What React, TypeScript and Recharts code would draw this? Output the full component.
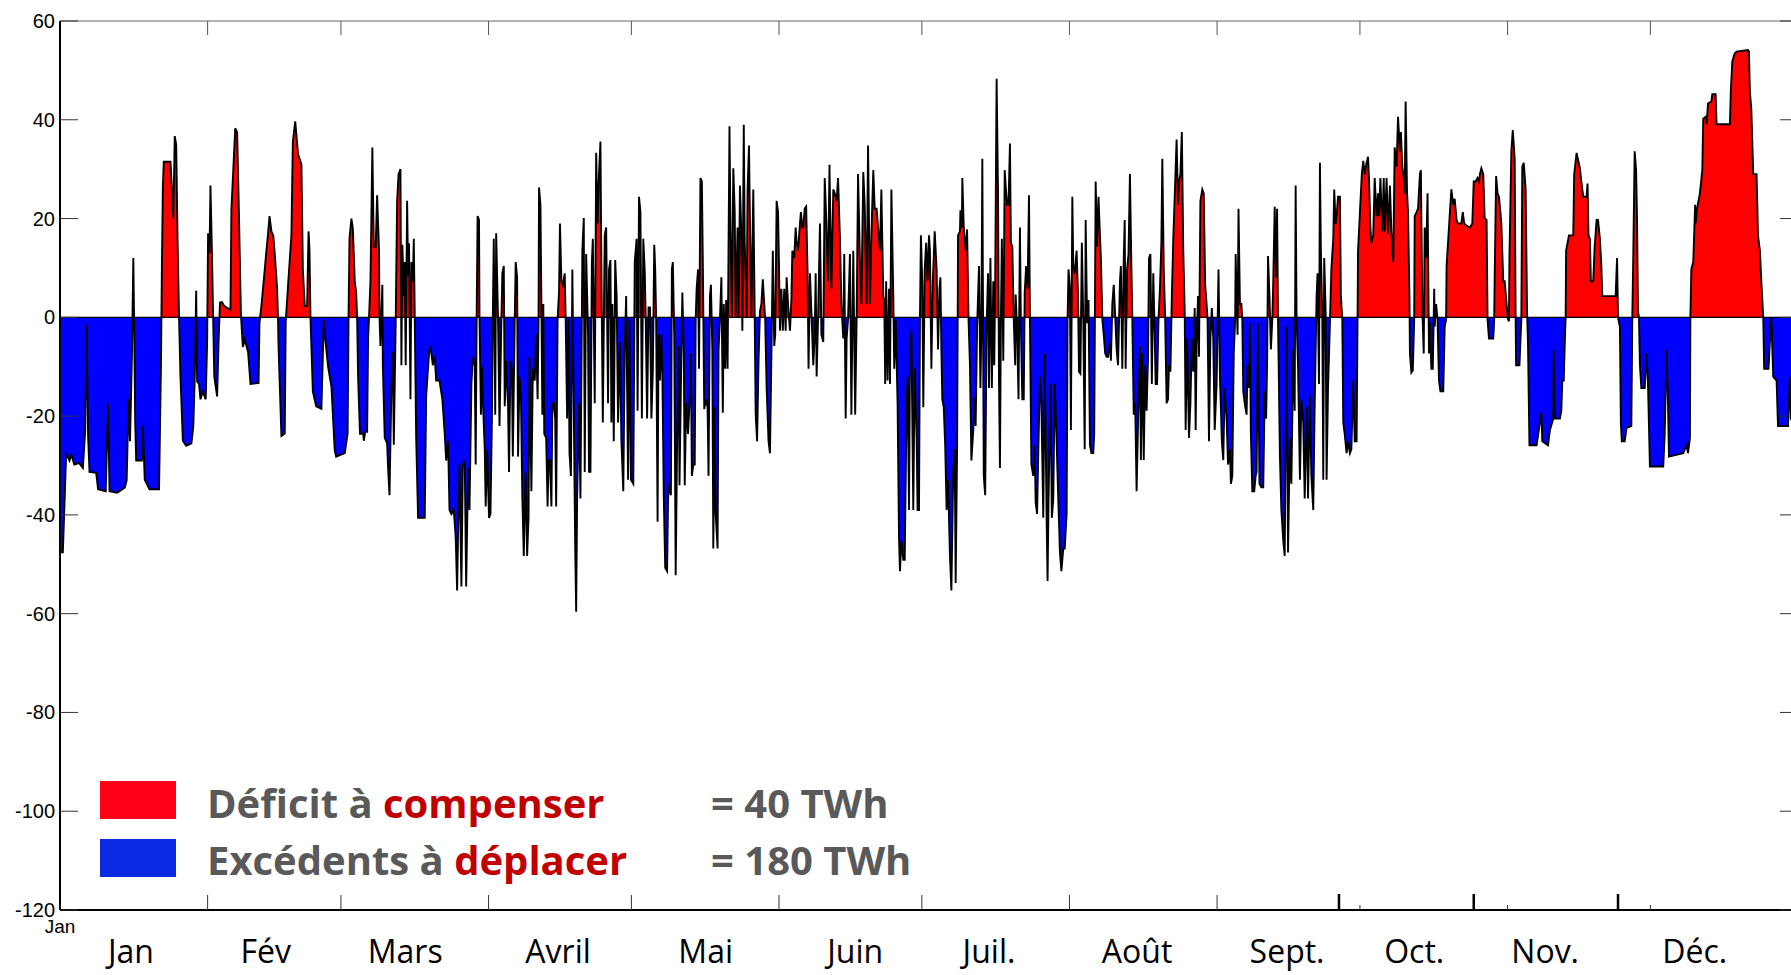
import { AreaChart, Area, XAxis, YAxis, ReferenceLine } from 'recharts'

// [jour de l'année, puissance nette en GW]
const janFev: [number, number][] = [
  [0, -47.6], [0.6, -47.6], [1.3, -27.5], [2.0, -29], [2.4, -27.8], [3.0, -29.8], [4.0, -29.5], [4.8, -30.5], [5.3, -22.8], [5.6, -1.5],
  [5.9, -24], [6.2, -31.3], [7.6, -31.5], [8.0, -34.8], [9.6, -35.2], [10.1, -17.4], [10.4, -35.2], [12, -35.5], [13.6, -34.5], [14.0, -33],
  [14.4, -16.6], [14.7, -25.1], [15.1, -8], [15.4, 12], [15.6, -4], [15.8, -21.3], [16.0, -29], [17.2, -29], [17.4, -22], [17.8, -32.9],
  [18.8, -34.8], [20.8, -34.8], [21.2, -10], [21.4, 10], [21.6, 26.3], [21.8, 31.5], [23.2, 31.5], [23.5, 26], [23.8, 20], [24.1, 36.7],
  [24.4, 35], [24.7, 15.1], [25.0, 0], [25.3, -12], [25.8, -25], [26.5, -26], [27.6, -25.5], [28.0, -22], [28.3, -12], [28.6, 5.4],
  [28.8, -13], [29.2, -13.5], [29.5, -16.6], [30.0, -15], [30.6, -16.6], [30.9, -5], [31.1, 17], [31.4, 13], [31.6, 26.7], [31.9, 13.5],
  [32.2, -2], [32.4, -12], [33.0, -16], [33.3, -5], [33.6, 3], [34.0, 3.1], [34.5, 2.3], [35.0, 2.0], [35.8, 1.5], [36.0, 22],
  [36.4, 30], [36.8, 38.3], [37.2, 37.5], [37.6, 20], [38.0, 0.5], [38.4, -6], [38.8, -4.5], [39.5, -7], [40.0, -13.5], [41.7, -13.3],
  [41.9, -1], [42.3, 2.3], [43.0, 9.7], [43.3, 13], [43.7, 17], [44.0, 20.5], [44.4, 17.4], [44.8, 16.5], [45.1, 12.8], [45.6, 5.8],
  [45.8, -1], [45.9, -6], [46.5, -24], [47.2, -23.5], [47.4, -1], [47.9, 6.6], [48.6, 16.6], [48.9, 35.6], [49.4, 39.7], [50.0, 33],
  [50.7, 31], [51.0, 9.7], [51.4, 2.3], [51.9, 2.3], [52.2, 17.4], [52.4, 13.5], [52.6, 0], [53.1, -15], [53.8, -18], [54.9, -18.5],
  [55.4, -0.5], [55.7, -4.3], [56.3, -10], [57.0, -14], [57.7, -27], [58.0, -28.2], [59.8, -27.5], [60.4, -23.6], [60.6, 0.5], [60.8, 16],
  [61.2, 20], [61.5, 18],
]

const marsAvril: [number, number][] = [
  [61.9, 7.3], [62.2, 5], [62.4, 0], [62.6, -12], [63.0, -23.6], [63.7, -23.6], [63.8, -25], [64.1, -23.2], [64.5, -23.2], [64.7, -4.3],
  [64.9, 0], [65.2, 7.3], [65.6, 34.4], [65.9, 14.3], [66.3, 14.3], [66.6, 24.7], [67.0, 13.5], [67.1, 0], [67.3, -5.8], [67.5, 1],
  [67.7, 6.6], [67.8, -9.7], [68.2, -24.4], [68.7, -25.5], [68.9, -30.5], [69.2, -36], [69.6, -14.3], [69.9, -7], [70.1, -25.8], [70.5, -1],
  [70.8, 23.6], [71.1, 29], [71.5, 30], [71.7, -9.7], [71.9, 14.7], [72.2, 4.3], [72.4, 11.2], [72.6, -9.7], [72.9, 23.6], [73.1, 8.5],
  [73.3, 15], [73.6, -16.6], [73.8, 11.2], [74.1, 7.3], [74.3, 15.9], [74.5, 0], [74.8, -24.4], [75.2, -40.6], [76.6, -40.6], [76.9, -15.9],
  [77.5, -7.3], [77.8, -5.8], [78.3, -9.7], [78.7, -8], [79.0, -12.8], [79.7, -12.8], [80.3, -16.6], [80.8, -23.6], [81.1, -29], [81.5, -25],
  [81.8, -39], [82.2, -39.8], [82.7, -39], [83.1, -44.5], [83.4, -55.3], [83.7, -38], [83.9, -29.8], [84.3, -54.5], [84.6, -29.8], [85.0, -29],
  [85.3, -54.5], [85.7, -30.5], [86.0, -39], [86.4, -13.5], [86.7, -8], [87.1, -9.7], [87.3, -29.8], [87.5, 0], [87.7, 20.5], [88.0, 19.7],
  [88.1, 0], [88.4, -19.7], [88.6, -10], [88.8, -16.6], [89.2, -26.7], [89.4, -38.3], [89.7, -26.7], [90.1, -40.6], [90.4, -39.8], [90.7, -21],
  [90.9, 0.5], [91.1, 15.9], [91.4, -19.7], [91.6, 17], [92.0, -0.4], [92.3, -22], [92.7, -0.4], [92.9, 8.9], [93.2, 10.4], [93.4, -18],
  [93.7, -8.8], [94.1, -18], [94.3, -31.3], [94.6, -8.8], [94.9, -10.4], [95.1, -28.2], [95.5, -0.4], [95.7, 11.2], [96.0, 8.1], [96.2, -28.2],
  [96.5, -12], [96.8, -15.9], [97.1, -36.7], [97.4, -48.3], [97.8, -31.3], [98.1, -48.3], [98.4, -40.6], [98.6, -8], [99.0, -35.2], [99.3, -10.4],
  [99.7, -12.8], [100.0, -3.5], [100.3, -16.6], [100.5, -0.4], [100.6, 26.3], [100.9, 22.8], [101.1, 2.7], [101.3, -19.7], [101.5, 2.7], [101.7, -23.6],
  [102.1, -24.4], [102.4, -38.3], [102.6, -29], [102.9, -29], [103.2, -38.3], [103.4, -17.4], [103.7, -17.4], [104.0, -20.5], [104.2, -38.3], [104.5, -0.4],
  [104.8, 5], [105.0, 19], [105.3, 7.3], [105.6, 6.6], [106.0, 8.9], [106.2, -0.4], [106.5, -20.5], [106.8, -0.4], [107.0, -27.5], [107.3, -32.1],
  [107.6, 9.7], [107.9, -18], [108.2, -46.8], [108.4, -59.6], [108.6, -36.7], [109.0, -17.4], [109.3, -36.7], [109.7, 13.5], [110.0, 20.1], [110.2, -31.3],
  [110.5, 12.8], [110.9, -3.5], [111.1, -31.3], [111.4, -31.3], [111.7, 11.2], [111.9, 15.9], [112.3, -17.4], [112.6, 33.3], [112.9, 19], [113.2, 29],
  [113.5, 35.6], [113.7, 9.7], [114.0, -21.3], [114.4, 16.6], [114.7, 18.2], [115.1, -17.4], [115.3, 9.7], [115.6, 11.6], [115.8, -21.3], [116.0, 2.7],
  [116.3, -25.1], [116.6, 11.6], [116.9, 4.3], [117.2, -21.3], [117.6, -5], [117.9, -25.1], [118.3, -35.2], [118.6, -6.5], [118.9, 4.3], [119.3, -32.9],
  [119.6, -0.4], [119.9, -32.9], [120.4, -33.7], [120.7, 11.2], [121.1, 15.9], [121.3, -18.9], [121.6, 24.4], [121.9, 21.3], [122.2, -20.5], [122.5, 15.9],
]

const maiJuin: [number, number][] = [
  [122.8, 9.3], [123.0, 0], [123.3, -20.5], [123.6, 2], [123.9, 2], [124.2, -20.5], [124.5, -11], [124.8, 14.7], [125.0, 9.7], [125.2, -0.4],
  [125.5, -41.4], [125.7, -3.5], [126.0, -12.8], [126.3, -3.5], [126.5, -11], [126.8, -36], [127.1, -50.7], [127.5, -51.4], [127.7, -36.7], [128.0, -33.7],
  [128.3, -36], [128.5, 9.7], [128.7, 11.2], [129.0, -3.5], [129.3, -52.2], [129.6, -25.1], [129.9, -5.8], [130.1, -34], [130.5, -7.3], [130.7, 5],
  [131.0, -7.3], [131.2, -34], [131.5, -17.4], [131.9, -23.6], [132.2, -17.4], [132.5, -7.3], [132.7, -32.1], [133.0, -29.8], [133.3, -29.8], [133.5, -0.4],
  [133.7, 5.8], [134.0, 9.7], [134.2, -10.4], [134.5, 28.2], [134.8, 27.5], [135.0, 11.2], [135.3, -18.6], [135.6, -16.6], [136.0, -18.2], [136.2, -32.1],
  [136.5, 4.3], [136.7, 6.6], [137.0, -6.5], [137.2, -46.8], [137.5, -18.2], [137.7, -39.8], [138.1, -46.8], [138.3, -6.5], [138.6, -0.4], [138.9, 8.1],
  [139.2, -19.3], [139.4, 2.7], [139.7, -10.4], [139.9, 3.5], [140.2, -10.4], [140.6, 38.7], [140.8, 19], [141.1, 0], [141.4, 30.2], [141.7, 21.3],
  [141.9, 0], [142.3, 18.2], [142.5, 0], [142.8, 26.7], [143.1, 16.6], [143.3, -2.7], [143.6, 39], [143.8, 15.1], [144.2, 0], [144.4, 25.9],
  [144.7, 34.8], [144.9, 19], [145.2, 0], [145.6, 25.9], [145.9, 0], [146.1, -19.7], [146.4, -25.1], [146.7, -8.8], [147.0, 1.2], [147.3, 2.7],
  [147.6, 7.7], [147.9, 2.7], [148.1, -0.4], [148.4, -14.3], [148.8, -25.1], [149.1, -27.5], [149.4, -8], [149.7, 13.5], [150.0, -5.8], [150.2, -3.5],
  [150.5, 23.6], [150.8, 21.3], [151.0, 10.4], [151.2, -2.7], [151.5, 5.8], [151.8, -2.7], [152.1, 5.8], [152.4, -2.7], [152.6, 8.1], [152.9, 2.7],
  [153.3, -2.7], [153.6, 3.5], [153.8, 13.5], [154.2, 12], [154.5, 18.2], [154.7, 15.1], [155.0, 13.5], [155.4, 19], [155.6, 21.3], [155.9, 18.2],
  [156.1, 18.2], [156.4, 22], [156.7, 22.4], [157.0, 8.9], [157.2, -10.4], [157.5, 8.9], [157.8, 1.2], [158.2, -9.7], [158.5, -3.5], [158.7, 8.9],
  [158.9, -12], [159.2, -0.4], [159.6, 19], [159.9, -3.5], [160.3, -5], [160.6, 28.2], [160.9, 20.5], [161.3, 7.3], [161.6, 30.9], [162.0, 5.8],
  [162.4, 25.9], [162.7, 25.1], [163.1, 23.6], [163.4, 28.2], [163.8, 15.9], [164.1, 2.7], [164.5, -4.3], [164.7, 12.8], [165.0, -20.5], [165.2, -4.3],
  [165.5, -0.4], [165.9, 12.8], [166.2, -19.7], [166.6, 13.5], [166.8, -4.3], [167.0, -19.7], [167.3, -0.4], [167.6, 29], [168.0, 11.2], [168.3, 2.7],
  [168.7, 29.4], [169.0, 22.8], [169.4, 2.7], [169.7, 34.8], [170.1, 2.7], [170.4, 16.6], [170.8, 29.8], [171.1, 22], [171.5, 22], [171.8, 18.2],
  [172.2, 13.5], [172.5, 25.9], [172.9, 4.3], [173.1, 3.5], [173.3, -13.5], [173.5, 7.3], [173.8, -12.8], [174.1, 5.8], [174.3, -13.5], [174.6, 25.9],
  [175.0, 4.3], [175.2, -10.4], [175.5, -0.4], [175.9, -17.4], [176.2, -44.5], [176.4, -51.4], [176.7, -45.2], [177.1, -49.1], [177.4, -49.1], [177.8, -17.4],
  [178.0, -12], [178.3, -39], [178.5, -8.8], [178.8, -2.7], [179.2, -39], [179.5, -10.4], [179.9, -24.4], [180.1, -39], [180.4, -39], [180.6, -0.4],
  [180.8, 16.6], [181.1, 6.6], [181.3, -18.2], [181.6, 9.7], [181.9, 15.1], [182.2, 7.3], [182.5, 16.6], [182.7, 13.5], [183.0, -10.4], [183.3, 7.3],
  [183.7, 17.4], [184.1, 9.7], [184.4, -6.5], [184.7, 5.8],
]

const juilAout: [number, number][] = [
  [184.9, 8.1], [185.1, -6.6], [185.3, -16.6], [185.6, -18.2], [185.9, -25.9], [186.2, -39], [186.5, -32.9], [186.9, -48.3], [187.2, -55.3], [187.6, -30.5],
  [187.9, -26.7], [188.1, -53.8], [188.4, -26.7], [188.6, 16.6], [189.0, 17.4], [189.1, 21.7], [189.4, 18.2], [189.5, 28.2], [189.8, 18.2], [190.2, 13.5],
  [190.5, 17.8], [190.8, -0.4], [191.1, -9.7], [191.4, -29], [191.8, -22.8], [192.1, -16.2], [192.3, -22], [192.6, -1.9], [193.0, 10.4], [193.3, -14.3],
  [193.5, -2.7], [193.7, 32.1], [194.0, -32.1], [194.3, -36], [194.6, -1.9], [194.9, 8.9], [195.1, -14.3], [195.4, 12], [195.7, -14.3], [196.0, 7.3],
  [196.2, -9.7], [196.4, 6.6], [196.7, 48.3], [197.0, 25.1], [197.2, -12.8], [197.4, -30.5], [197.6, -0.4], [197.8, 15.9], [198.1, -8.8], [198.4, 29.8],
  [198.6, 26.7], [198.9, 22.8], [199.2, 22.8], [199.5, 35.2], [199.7, 15.1], [200.0, 14.3], [200.3, -0.4], [200.6, -9.7], [200.7, 4.6], [201.0, -2.7],
  [201.3, -16.6], [201.6, 18.2], [201.8, -1.9], [202.1, -16.6], [202.4, -16.6], [202.6, 5], [202.9, 10.4], [203.2, 5.8], [203.5, 24.7], [203.7, -0.4],
  [204.0, -29.8], [204.4, -32.1], [204.7, -25.9], [204.9, -37.5], [205.2, -39.8], [205.5, -25.1], [205.8, -12], [206.1, -17.4], [206.5, -40.6], [206.8, -7.3],
  [207.2, -40.6], [207.4, -53.4], [207.6, -37.5], [208.0, -13.5], [208.3, -40.6], [208.6, -36.7], [208.9, -13.5], [209.3, -25.1], [209.6, -35.2], [210.0, -47.6],
  [210.3, -51.4], [210.7, -46.8], [211.0, -46.8], [211.4, -39.8], [211.6, -0.4], [211.8, 9.7], [212.1, 5.8], [212.3, -22.8], [212.6, 24.4], [212.8, 10.4],
  [213.1, 8.9], [213.5, 13.5], [213.8, 4.3], [214.0, -11], [214.3, -11.4], [214.6, 15.1], [214.9, -0.4], [215.2, -26.7], [215.4, 19.7], [215.7, -1.2],
  [216.0, 3.5], [216.3, -25.9], [216.6, -27.5], [217.0, -27.5], [217.2, -23.6], [217.5, 27.5], [217.8, 14.3], [218.1, 24.4], [218.4, 16.6], [218.6, 12],
  [218.9, -0.4], [219.2, -3.5], [219.5, -7.3], [219.8, -8], [220.1, -8], [220.5, -5], [220.7, -8.8], [221.0, 2.7], [221.3, 6.6], [221.6, 0.4],
  [221.9, -6.5], [222.2, -9.7], [222.6, 7.3], [222.8, 10.4], [223.1, -10.4], [223.4, 12], [223.6, 19.7], [223.8, -10.4], [224.1, 9.7], [224.4, 12.8],
  [224.7, 29], [225.0, 10.4], [225.2, -0.4], [225.5, -19.7], [225.8, -17.4], [226.1, -35.2], [226.4, -21.3], [226.8, -5.8], [227.0, -28.9], [227.3, -7.3],
  [227.6, -28.9], [227.9, -9.7], [228.2, -18.9], [228.5, -8], [228.7, 12], [229.0, 12.8], [229.3, -13.5], [229.6, 8.9], [229.9, -3.5], [230.1, -13.5],
  [230.4, -13.5], [230.7, -0.4], [231.0, 5.8], [231.3, 15.1], [231.5, 32.1], [231.8, 9.7], [232.1, -0.4], [232.4, -17.4], [232.7, -16.6], [232.9, -9.7],
  [233.2, -11], [233.5, 4.3], [233.8, 15.9], [234.1, 24.4], [234.5, 36], [234.8, 22.8], [235.0, 27.5], [235.3, 29], [235.6, 37.5], [235.9, 13.5],
  [236.2, 1.2], [236.4, -22.8], [236.7, -4.3], [237.1, -24.4], [237.4, -17.4], [237.7, -4.3], [238.0, -11], [238.3, 1.9], [238.5, -22.8], [238.7, -5.8],
  [239.0, 4.3], [239.2, -8], [239.5, 23.6], [239.9, 25.9], [240.2, 25.1], [240.5, 6.6], [240.8, 2.7], [241.0, -0.4], [241.3, -25.1], [241.6, -4.3],
  [241.9, 1.9], [242.2, -4.3], [242.5, -22.8], [242.9, -13.5], [243.3, 9.7], [243.6, -11.8], [244.0, -25.1], [244.3, -28.9], [244.6, -14.3], [245.0, -20.5],
  [245.3, -29.8], [245.7, -26.7], [245.9, -33.7], [246.2, -32.1], [246.5, -7.3], [246.8, -0.4],
]

const septOct: [number, number][] = [
  [246.9, 12.8], [247.3, -3.5], [247.5, 22], [247.8, 2.7], [248.1, 2.7], [248.3, -0.4], [248.5, -15], [248.8, -17.4], [249.2, -19.7], [249.4, -9.7],
  [249.7, -14.3], [249.9, -1.2], [250.1, -23.6], [250.4, -35.2], [250.8, -35.2], [251.1, -32.1], [251.3, -31.3], [251.6, -1.2], [251.9, -33.7], [252.3, -34.4],
  [252.7, -34.4], [253.0, -15], [253.3, -20.5], [253.5, -9.7], [253.7, 12.4], [254.0, 4.3], [254.3, -6.5], [254.6, -0.4], [254.8, 7.3], [255.1, 22.4],
  [255.4, 8.1], [255.6, 22], [255.8, -0.4], [256.2, -28.2], [256.5, -39], [256.9, -45.2], [257.2, -48.3], [257.6, -1.9], [257.9, -47.6], [258.3, -24.4],
  [258.6, -33.7], [259.0, -6.5], [259.3, -18.9], [259.5, 26.7], [259.7, -0.4], [260.0, -9.7], [260.4, -32.9], [260.7, -16.6], [261.1, -21.3], [261.4, -36.7],
  [261.8, -18.2], [262.1, -36.7], [262.5, -15.9], [262.8, -32.1], [263.2, -39], [263.5, -17.4], [263.9, 4.3], [264.1, 8.9], [264.4, -13.5], [264.6, 31.3],
  [264.8, 13.5], [265.1, -0.4], [265.3, -32.9], [265.5, 12], [265.8, 1.2], [266.0, -32.9], [266.3, -14.3], [266.7, -1.2], [267.0, 9.7], [267.4, 15.9],
  [267.6, 25.9], [267.9, 18.9], [268.1, 20.5], [268.4, 24.4], [268.8, 24.4], [269.0, 4.3], [269.3, -0.4], [269.5, -21.3], [269.8, -23.6], [270.2, -27.5],
  [270.5, -25.1], [270.9, -27.5], [271.2, -26.7], [271.6, -12.8], [271.9, -25.1], [272.3, -25.1], [272.5, -0.4], [272.6, 13.5], [273.0, 21.3], [273.4, 29],
  [273.7, 31.7], [274.0, 29], [274.4, 31.3], [274.7, 32.5], [274.9, 28.2], [275.2, 18.2], [275.4, 15.1], [275.8, 16.6], [276.1, 28.2], [276.5, 20.5],
  [276.8, 25.1], [277.0, 20.5], [277.3, 28.2], [277.7, 17.4], [278.0, 28.2], [278.2, 17.4], [278.6, 28.2], [278.9, 17], [279.3, 26.7], [279.6, 17.4],
  [280.0, 11.2], [280.3, 34.4], [280.7, 30.5], [281.0, 40.6], [281.4, 33.6], [281.6, 37.5], [281.9, 30.5], [282.2, 28.2], [282.4, 25.1], [282.6, 43.7],
  [282.9, 25.1], [283.1, 21.3], [283.4, 4.3], [283.5, -7.3], [283.8, -11.2], [284.1, -10.8], [284.4, -0.4], [284.5, 20.5], [284.9, 21.3], [285.2, 22],
  [285.6, 29], [285.8, 29.8], [286.1, 1.9], [286.4, -7.3], [286.6, 18.2], [286.9, 12], [287.2, 25.1], [287.5, -7.3], [287.7, -1.2], [288.0, -10.4],
  [288.3, -10.4], [288.6, 5.8], [288.7, -1.9], [289.0, 2.7], [289.3, -0.4], [289.6, -12.8], [289.9, -15], [290.5, -15], [290.8, -1.9], [291.1, -0.4],
  [291.2, 10.4], [291.5, 15.1], [291.9, 21.3], [292.2, 25.9], [292.6, 22.8], [292.9, 24], [293.3, 19.7], [293.6, 19], [294.3, 19], [294.6, 21.3],
  [294.9, 19], [295.4, 18.6], [296.1, 18.2], [296.6, 19], [296.9, 27.5], [297.3, 27.5], [297.7, 28.2], [298.0, 27.5], [298.2, 29], [298.5, 30.2],
  [298.9, 29], [299.2, 20.1], [299.6, 19.7], [299.8, -0.4], [300.1, -4.3], [300.6, -4.3], [301.0, -4.3], [301.2, -0.4], [301.3, 8.1], [301.6, 28.6],
  [301.9, 25.1], [302.2, 24.4], [302.5, 21.3], [302.7, 19], [303.1, 7.3], [303.4, 7.3], [303.8, 2.7], [304.1, -0.4], [304.3, -0.8], [304.4, 12],
  [304.8, 33.6], [305.1, 37.9], [305.5, 32.1], [305.7, -0.4], [305.8, -9.7], [306.5, -9.7], [306.9, -0.4], [307.1, 30.5], [307.4, 31.3], [307.8, 25.9],
  [308.1, 1.2], [308.3, -5.4], [308.6, -25.9], [309.7, -25.9],
]

const novDec: [number, number][] = [
  [310.1, -25.9], [311.1, -19.3], [311.3, -25.1], [312.5, -25.9], [312.9, -22.8], [313.6, -20.5], [313.7, -6.6], [313.9, -20.5], [315.0, -20.5], [315.3, -18.9],
  [315.5, -12.8], [315.8, -12.8], [316.0, -5.8], [316.2, 0], [316.3, 13.5], [316.9, 16.6], [317.8, 16.6], [318.0, 29], [318.5, 33.3], [319.2, 30.2],
  [319.5, 27.5], [319.9, 24.4], [320.6, 24.4], [320.8, 27.1], [321.0, 16.6], [321.3, 15.9], [321.5, 7.3], [322.0, 7.3], [322.3, 14.3], [322.7, 19.7],
  [323.0, 19.7], [323.4, 15.9], [323.7, 10.4], [323.9, 4.3], [326.7, 4.3], [327.0, 12], [327.2, 0], [327.6, -1.9], [327.8, -21.3], [328.0, -25.1],
  [328.6, -25.1], [329.0, -22.4], [330.0, -22], [330.2, 0], [330.4, 12], [330.7, 33.6], [331.0, 29.8], [331.2, 19.7], [331.4, 1.2], [331.6, 0],
  [331.8, -9.7], [332.1, -14.3], [332.8, -14.3], [333.2, -7.3], [333.5, -13.5], [333.9, -30.2], [336.7, -30.2], [337.0, -23.6], [337.4, -6.6], [337.7, -17.4],
  [337.9, -28.2], [340.9, -27.5], [341.6, -25.9], [341.9, -27.5], [342.3, -24.4], [342.4, 0], [342.6, 9.7], [343.0, 11.2], [343.4, 22.8], [343.5, 19],
  [343.8, 22], [344.4, 25.1], [344.9, 29.8], [345.1, 40.2], [345.6, 40.6], [345.8, 39.1], [346.1, 43.3], [346.8, 43.7], [347.0, 45.2], [347.7, 45.2],
  [347.9, 39.1], [350.7, 39.1], [350.9, 46], [351.2, 51.8], [351.7, 53.4], [352.1, 53.8], [354.5, 54.1], [354.7, 53.8], [354.9, 45.6], [355.2, 42.1],
  [355.6, 29], [356.3, 29], [356.6, 16.6], [357.0, 13.5], [357.3, 7.3], [357.7, 0], [357.9, -10.4], [358.8, -10.4], [359.1, -5], [359.4, 0],
  [359.8, -12], [360.5, -12.8], [360.8, -22], [362.9, -22], [363.3, -12], [363.5, -20.5], [364.2, -22], [365, -22],
]

const monthStarts = [0, 31, 59, 90, 120, 151, 181, 212, 243, 273, 304, 334]
const monthNames = ['Jan', 'Fév', 'Mars', 'Avril', 'Mai', 'Juin', 'Juil.', 'Août', 'Sept.', 'Oct.', 'Nov.', 'Déc.']
const monthLabelDays = [14.9, 43.2, 72.5, 104.6, 135.6, 167.0, 195.1, 226.2, 257.7, 284.4, 311.9, 343.3]
const boldTickDays = [268.6, 296.9, 327.2]
const yTicks = [-120, -100, -80, -60, -40, -20, 0, 20, 40, 60]

const CHART_W = 1798
const CHART_H = 975
const PLOT_TOP = 21

const rows = [...janFev, ...marsAvril, ...maiJuin, ...juilAout, ...septOct, ...novDec].map(([day, gw]) => ({ day, gw }))
const maxV = Math.max(...rows.map(r => r.gw))
const minV = Math.min(...rows.map(r => r.gw))
const splitOffset = maxV / (maxV - minV)

function BottomTick(props: any) {
  const { x, y, payload } = props
  const v = payload.value
  const li = monthLabelDays.indexOf(v)
  if (li >= 0) {
    return (
      <text x={x} y={y + 53} textAnchor="middle" fontFamily="'Open Sans', sans-serif" fontSize={32} fill="#000">
        {monthNames[li]}
      </text>
    )
  }
  if (boldTickDays.includes(v)) {
    return <line x1={x} x2={x} y1={y} y2={y - 16} stroke="#000" strokeWidth={2.5} />
  }
  const short = v >= 273
  return (
    <g>
      {v > 0 && <line x1={x} x2={x} y1={y} y2={y - (short ? 5 : 15)} stroke="#333" strokeWidth={1} />}
      {v > 0 && <line x1={x} x2={x} y1={PLOT_TOP} y2={PLOT_TOP + 14} stroke="#555" strokeWidth={1} />}
      {v === 0 && (
        <text x={x} y={y + 23} textAnchor="middle" fontFamily="'Liberation Sans', Arial, sans-serif" fontSize={19} fill="#000">
          Jan
        </text>
      )}
    </g>
  )
}

function LeftTick(props: any) {
  const { x, y, payload } = props
  return (
    <g>
      <text x={x - 5} y={y} dy={7} textAnchor="end" fontFamily="'Liberation Sans', Arial, sans-serif" fontSize={20} fill="#000">
        {payload.value}
      </text>
      <line x1={x} x2={x + 18} y1={y} y2={y} stroke="#333" strokeWidth={1} />
      <line x1={CHART_W} x2={CHART_W - 18} y1={y} y2={y} stroke="#333" strokeWidth={1} />
    </g>
  )
}

export default function App() {
  return (
    <div style={{ position: 'fixed', left: 0, top: 0, width: 1791, height: 975, overflow: 'hidden', background: '#fff' }}>
      <AreaChart width={CHART_W} height={CHART_H} data={rows} margin={{ top: PLOT_TOP, right: 0, bottom: 0, left: 0 }}>
        <defs>
          <linearGradient id="split" x1="0" y1="0" x2="0" y2="1">
            <stop offset={splitOffset} stopColor="#ff0000" />
            <stop offset={splitOffset} stopColor="#0000ff" />
          </linearGradient>
        </defs>
        <XAxis
          dataKey="day"
          type="number"
          domain={[0, 365]}
          ticks={[...monthStarts, ...monthLabelDays, ...boldTickDays]}
          interval={0}
          tick={BottomTick}
          tickLine={false}
          tickSize={0}
          tickMargin={0}
          height={65}
          axisLine={{ stroke: '#000', strokeWidth: 2 }}
          allowDataOverflow
        />
        <YAxis
          type="number"
          domain={[-120, 60]}
          ticks={yTicks}
          interval={0}
          tick={LeftTick}
          tickLine={false}
          tickSize={0}
          tickMargin={0}
          width={60}
          axisLine={{ stroke: '#000', strokeWidth: 2 }}
          allowDataOverflow
        />
        <ReferenceLine y={60} stroke="#666" strokeWidth={1} />
        <Area
          type="linear"
          dataKey="gw"
          baseValue={0}
          stroke="#000"
          strokeWidth={1.9}
          fill="url(#split)"
          fillOpacity={1}
          dot={false}
          activeDot={false}
          isAnimationActive={false}
        />
        <ReferenceLine y={0} stroke="#000" strokeWidth={1.2} />
      </AreaChart>
      <svg width={1791} height={975} style={{ position: 'absolute', left: 0, top: 0, pointerEvents: 'none' }}>
        <rect x={100} y={781} width={76} height={38} fill="#ff0018" />
        <rect x={100} y={839} width={76} height={38} fill="#0a2be3" />
        <g fontFamily="'Open Sans', sans-serif" fontWeight={700} fontSize={40} fill="#595959">
          <text x={207} y={818}>
            Déficit à <tspan fill="#c00000">compenser</tspan>
          </text>
          <text x={207} y={875}>
            Excédents à <tspan fill="#c00000">déplacer</tspan>
          </text>
          <text x={711} y={818}>= 40 TWh</text>
          <text x={711} y={875}>= 180 TWh</text>
        </g>
      </svg>
    </div>
  )
}
